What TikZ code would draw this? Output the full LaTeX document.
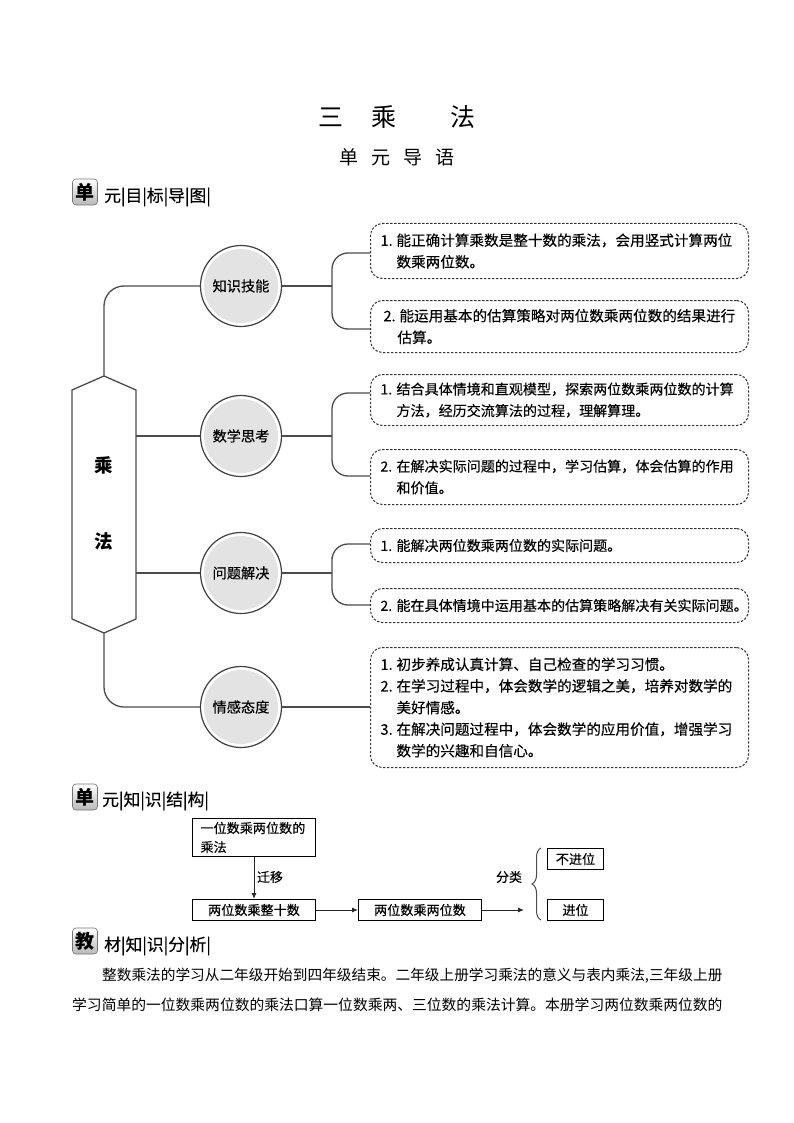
\documentclass[tikz,border=0pt]{standalone}
\usepackage{fontspec}
\setmainfont{Noto Sans CJK SC}
\newfontfamily\medfont[FakeBold=0.25]{Noto Sans CJK SC}
\usetikzlibrary{arrows.meta}
\usetikzlibrary{decorations.pathreplacing}

\newcommand{\itm}[2]{\makebox[16pt][l]{#1}#2}
\newcommand{\cont}[1]{\hspace*{16pt}#1}
\tikzset{
    conn/.style={draw=black!70, line width=1.3pt},
    goalbox/.style={draw=black!80, line width=1pt, dash pattern=on 2.4pt off 1.6pt, rounded corners=12pt,
        anchor=north west, minimum width=378pt, inner xsep=10pt, inner ysep=0pt, text width=358pt, align=left,
        font=\medfont\fontsize{14.6}{21.6}\selectfont},
    tightbox/.style={font=\medfont\fontsize{14.05}{21.6}\selectfont},
    topic/.style={circle, draw=black!75, line width=1.2pt, fill=white, minimum size=81pt, inner sep=0pt,
        path picture={\fill[black!11] (path picture bounding box.center) circle (37pt);},
        font=\medfont\fontsize{14.2}{16}\selectfont},
    badge/.style={draw=black!55, line width=0.6pt, rounded corners=3.5pt, top color=white, bottom color=black!28,
        inner sep=0pt, minimum width=25pt, minimum height=26pt, font=\fontsize{19}{20}\bfseries\selectfont},
    sechead/.style={anchor=west, inner sep=0pt, font=\medfont\fontsize{16.8}{18}\selectfont},
    kbox/.style={draw=black, line width=1pt, inner sep=0pt, anchor=north west, font=\medfont\fontsize{13.1}{19}\selectfont},
    flow/.style={draw=black!85, line width=1pt, -{Latex[length=6pt,width=5pt]}},
    para/.style={anchor=west, inner sep=0pt}
}

\begin{document}
\begin{tikzpicture}[x=1pt,y=-1pt]
    \useasboundingbox (0,0) rectangle (794,1123);

    % 标题
    \node[inner sep=0pt, font=\fontsize{25}{28}\selectfont] (title) at (397,117) {三\hspace{28pt}乘\hspace{54pt}法};
    \node[inner sep=0pt, font=\fontsize{19}{22}\selectfont] (subtitle) at (397,157) {单\hspace{13pt}元\hspace{13pt}导\hspace{13pt}语};

    % 三个小标题
    \node[badge] (badgeA) at (85,192) {单};
    \node[sechead] (headA) at (104,197) {元|目|标|导|图|};
    \node[badge] (badgeB) at (85,797) {单};
    \node[sechead] (headB) at (102,801) {元|知|识|结|构|};
    \node[badge] (badgeC) at (85,941) {教};
    \node[sechead] (headC) at (104,946) {材|知|识|分|析|};

    % 左边的六边形
    \coordinate (hexT) at (104,376);
    \coordinate (hexB) at (104,633);
    \coordinate (hexR2) at (136,436);
    \coordinate (hexR3) at (136,573);
    \filldraw[conn, fill=white] (hexT) -- (136,390) -- (136,619) -- (hexB) -- (72,619) -- (72,390) -- cycle;
    \node[inner sep=0pt, font=\fontsize{18.5}{20}\bfseries\selectfont] (hexA) at (104,465) {乘};
    \node[inner sep=0pt, font=\fontsize{18.5}{20}\bfseries\selectfont] (hexC) at (104,541) {法};

    % 四个圆
    \node[topic] (know) at (241,286) {知识技能};
    \node[topic] (math) at (241,436) {数学思考};
    \node[topic] (solve) at (241,573) {问题解决};
    \node[topic] (feel) at (241,707) {情感态度};

    % 右边的虚线框
    \node[goalbox, minimum height=55pt] (goalA) at (370,223) {\itm{1.}{能正确计算乘数是整十数的乘法，会用竖式计算两位}\\\cont{数乘两位数。}};
    \node[goalbox, minimum height=52pt] (goalB) at (370,300) {\hspace*{3pt}\itm{2.}{能运用基本的估算策略对两位数乘两位数的结果进行}\\\hspace*{1pt}\cont{估算。}};
    \node[goalbox, tightbox, minimum height=51pt] (goalC) at (370,374) {\itm{1.}{结合具体情境和直观模型，探索两位数乘两位数的计算}\\\cont{方法，经历交流算法的过程，理解算理。}};
    \node[goalbox, tightbox, minimum height=55pt] (goalD) at (370,449) {\itm{2.}{在解决实际问题的过程中，学习估算，体会估算的作用}\\\cont{和价值。}};
    \node[goalbox, tightbox, minimum height=34pt] (goalE) at (370,528) {\itm{1.}{能解决两位数乘两位数的实际问题。}};
    \node[goalbox, tightbox, minimum height=34pt] (goalF) at (370,588) {\itm{2.}{能在具体情境中运用基本的估算策略解决有关实际问题。}};
    \node[goalbox, minimum height=120pt] (goalG) at (370,647) {\itm{1.}{初步养成认真计算、自己检查的学习习惯。}\\\itm{2.}{在学习过程中，体会数学的逻辑之美，培养对数学的}\\\cont{美好情感。}\\\itm{3.}{在解决问题过程中，体会数学的应用价值，增强学习}\\\cont{数学的兴趣和自信心。}};

    % 连线
    \draw[conn, rounded corners=20pt] (hexT) |- (know);
    \draw[conn] (hexR2) -- (math);
    \draw[conn] (hexR3) -- (solve);
    \draw[conn, rounded corners=20pt] (hexB) |- (feel);
    \coordinate (endA) at (370,253);
    \coordinate (endB) at (370,329);
    \coordinate (endC) at (370,393);
    \coordinate (endD) at (370,476);
    \coordinate (endE) at (370,544);
    \coordinate (endF) at (370,605);
    \draw[conn] (know) -- (332,286);
    \draw[conn, rounded corners=16pt] (endA) -| (332,290) |- (endB);
    \draw[conn] (math) -- (332,436);
    \draw[conn, rounded corners=16pt] (endC) -| (332,436) |- (endD);
    \draw[conn] (solve) -- (332,573);
    \draw[conn, rounded corners=16pt] (endE) -| (332,573) |- (endF);
    \draw[conn] (feel) -- (goalG.west |- feel);

    % 知识结构
    \node[kbox, minimum width=123pt, minimum height=38pt, align=left, text width=107pt, inner xsep=8pt] (oneTwo) at (192,818) {一位数乘两位数的\\乘法};
    \node[kbox, minimum width=123pt, minimum height=21pt, align=center] (twoTen) at (192,899) {两位数乘整十数};
    \node[kbox, minimum width=123pt, minimum height=21pt, align=center] (twoTwo) at (358,899) {两位数乘两位数};
    \node[kbox, minimum width=56pt, minimum height=21pt] (noCarry) at (547,848) {不进位};
    \node[kbox, minimum width=56pt, minimum height=21pt] (carry) at (547,899) {进位};
    \coordinate (flowEnd) at (524,910);
    \coordinate (braceB) at (541,920);
    \coordinate (braceT) at (541,848);
    \draw[flow] (oneTwo) -- (twoTen);
    \node[inner sep=0pt, font=\medfont\fontsize{13}{14}\selectfont] (moveText) at (270,877) {迁移};
    \draw[flow] (twoTen) -- (twoTwo);
    \draw[flow] (twoTwo) -- (flowEnd);
    \draw[conn, line width=1pt, decorate, decoration={brace,amplitude=9pt}] (braceB) -- (braceT);
    \node[inner sep=0pt, font=\medfont\fontsize{13}{14}\selectfont] (classText) at (509,877) {分类};

    % 下面的两行文字
    \node[para, font=\fontsize{14.67}{16}\selectfont] (lineA) at (102,976) {整数乘法的学习从二年级开始到四年级结束。二年级上册学习乘法的意义与表内乘法,三年级上册};
    \node[para, font=\fontsize{14.78}{16}\selectfont] (lineB) at (72,1005) {学习简单的一位数乘两位数的乘法口算一位数乘两、三位数的乘法计算。本册学习两位数乘两位数的};
\end{tikzpicture}
\end{document}
